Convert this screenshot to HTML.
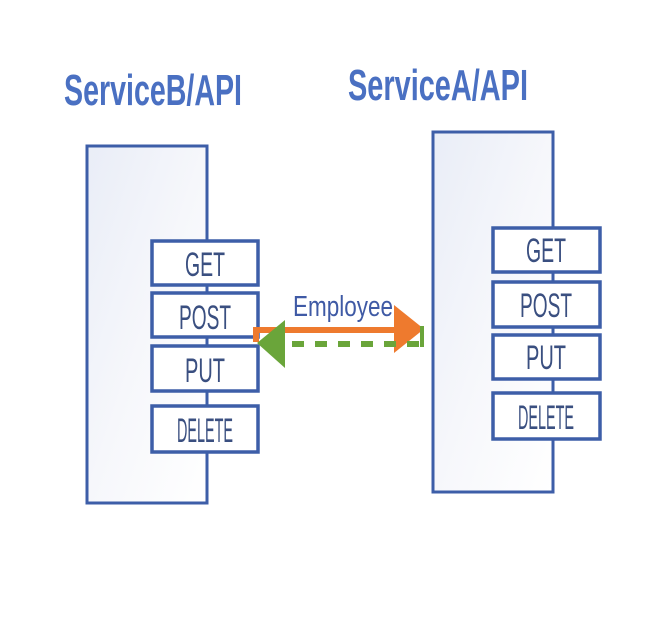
<!DOCTYPE html>
<html><head><meta charset="utf-8"><style>
html,body{margin:0;padding:0;background:#fff;}
svg{display:block}
text{font-family:"Liberation Sans",sans-serif;}
</style></head><body>
<svg width="648" height="634" viewBox="0 0 648 634" xmlns="http://www.w3.org/2000/svg">
<defs>
<linearGradient id="g" x1="0" y1="0" x2="1" y2="1">
<stop offset="0" stop-color="#e9edf7"/><stop offset="0.5" stop-color="#f6f7fb"/><stop offset="1" stop-color="#ffffff"/>
</linearGradient>
</defs>
<rect width="648" height="634" fill="#fff"/>
<text x="64" y="105" font-size="44" font-weight="bold" fill="#4a70c2" textLength="178" lengthAdjust="spacingAndGlyphs">ServiceB/API</text>
<text x="348" y="100" font-size="44" font-weight="bold" fill="#4a70c2" textLength="180" lengthAdjust="spacingAndGlyphs">ServiceA/API</text>

<rect x="87" y="146" width="120" height="357" fill="url(#g)" stroke="#3d5ea8" stroke-width="3"/>
<rect x="433" y="132" width="120" height="360" fill="url(#g)" stroke="#3d5ea8" stroke-width="3"/>

<g fill="#fff" stroke="#3d5ea8" stroke-width="3.5">
<rect x="152" y="241" width="106" height="44"/>
<rect x="152" y="293" width="106" height="44"/>
<rect x="152" y="346" width="106" height="45"/>
<rect x="152" y="406" width="106" height="46"/>
<rect x="493" y="228" width="107" height="44"/>
<rect x="493" y="282" width="107" height="45"/>
<rect x="493" y="335" width="107" height="44"/>
<rect x="493" y="393" width="107" height="46"/>
</g>
<g font-size="34" fill="#3a4f80" text-anchor="middle">
<text x="205" y="276" textLength="40" lengthAdjust="spacingAndGlyphs">GET</text>
<text x="205" y="329" textLength="52" lengthAdjust="spacingAndGlyphs">POST</text>
<text x="205" y="382" textLength="40" lengthAdjust="spacingAndGlyphs">PUT</text>
<text x="205" y="442" textLength="56" lengthAdjust="spacingAndGlyphs">DELETE</text>
<text x="546" y="262" textLength="40" lengthAdjust="spacingAndGlyphs">GET</text>
<text x="546" y="317" textLength="52" lengthAdjust="spacingAndGlyphs">POST</text>
<text x="546" y="369" textLength="40" lengthAdjust="spacingAndGlyphs">PUT</text>
<text x="546" y="429" textLength="56" lengthAdjust="spacingAndGlyphs">DELETE</text>
</g>

<text x="293" y="316" font-size="29" fill="#3f5aa5" textLength="100" lengthAdjust="spacingAndGlyphs">Employee</text>
<path d="M256 342 V330 H398" fill="none" stroke="#ee7a2e" stroke-width="6"/>
<polygon points="394,305 424,329 394,353" fill="#ee7a2e"/>
<line x1="292" y1="344" x2="422" y2="344" stroke="#6aa53a" stroke-width="6" stroke-dasharray="12,11"/>
<path d="M422 326 V347" stroke="#6aa53a" stroke-width="4" fill="none"/>
<polygon points="257,343 285,320 285,368" fill="#6aa53a"/>
</svg>
</body></html>
